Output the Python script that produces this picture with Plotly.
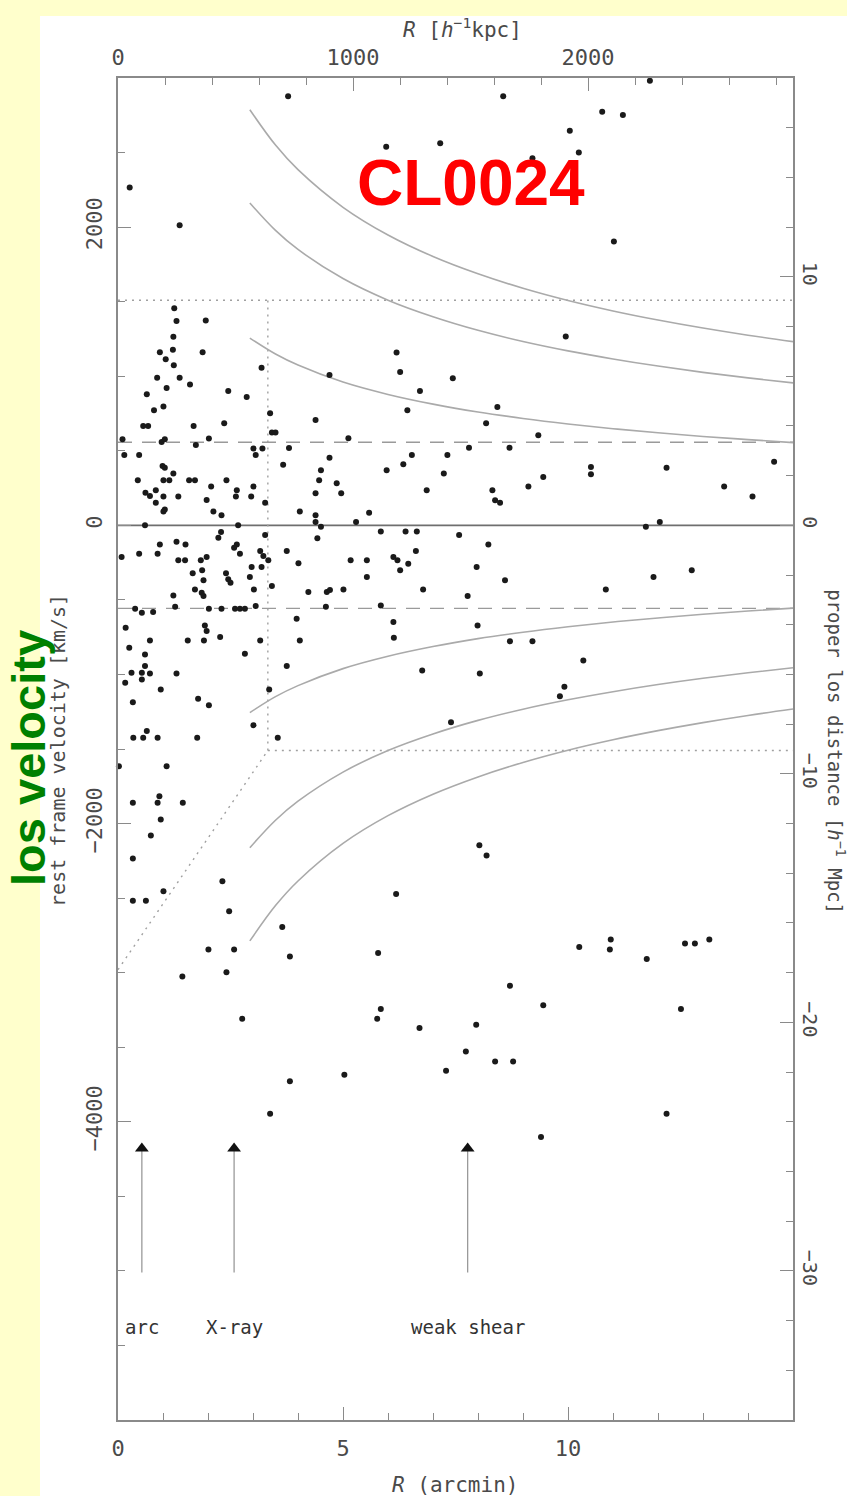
import plotly.graph_objects as go

# ---------------- data ----------------
# galaxies: projected radius R (arcmin) and rest frame velocity (km/s)
gal_R = [
    3.78, 8.56, 11.82, 10.76, 11.22, 10.04, 5.96, 7.16, 9.21, 10.24, 0.26, 1.37, 11.02,
    1.25, 1.30, 1.95, 1.23, 1.22, 0.93, 1.06, 1.24, 1.88, 3.19, 0.87, 1.37, 1.08, 1.60,
    0.64, 2.45, 2.86, 0.80, 1.01, 3.38, 0.56, 0.67, 1.68, 2.36, 3.42, 3.50, 0.10, 0.97,
    1.04, 2.02, 1.73, 3.01, 3.21, 3.06, 3.80, 0.14, 0.47, 3.67, 0.99, 1.04, 1.23, 0.44,
    1.01, 1.14, 1.58, 1.71, 2.41, 3.01, 2.07, 2.64, 0.61, 0.71, 0.84, 1.01, 1.34, 1.97,
    2.62, 2.96, 0.84, 3.27, 1.01, 1.04, 2.12, 2.30, 4.04, 0.60, 2.67,
    9.95, 6.19, 4.70, 6.27, 7.44, 6.71, 6.43, 8.43, 4.39, 8.18, 5.12, 9.34, 7.80, 8.70,
    4.70, 6.53, 7.32, 6.34, 5.97, 4.51, 4.47, 4.86, 4.39, 4.96, 7.24, 9.45, 10.51, 10.51,
    12.19, 14.58, 6.86, 8.32, 8.38, 8.49, 9.12, 13.47, 14.10, 5.58, 4.39, 4.39, 4.51,
    5.29, 11.73, 12.04,
    2.29, 2.23, 3.27, 0.93, 1.30, 1.50, 2.64, 2.58, 0.08, 0.47, 0.88, 2.71, 3.16, 3.23,
    3.34, 3.75, 1.34, 1.49, 1.84, 1.97, 4.01, 2.97, 3.19, 1.66, 1.87, 2.40, 2.45, 2.50,
    1.90, 2.93, 3.02, 3.42, 1.71, 1.86, 1.90, 4.23, 1.23, 1.27, 0.38, 0.53, 0.78, 2.02,
    2.30, 2.60, 2.71, 2.82, 3.06, 3.97, 0.17, 1.93, 1.97, 0.71, 1.55, 1.91, 2.27, 3.16,
    4.04, 0.25, 0.60, 2.82, 0.60, 0.53, 0.30, 0.71, 1.30, 3.75, 0.16, 0.53, 0.95, 3.36,
    0.33, 1.78, 2.02, 3.01, 0.64, 0.34, 0.56, 0.88, 1.76, 3.55, 0.02, 1.08,
    4.43, 5.84, 6.39, 6.64, 7.58, 8.23, 6.62, 5.17, 5.53, 6.12, 6.21, 6.45, 6.27, 7.97,
    5.53, 8.60, 11.90, 12.75, 10.84, 4.64, 4.71, 5.01, 6.78, 7.77, 4.62, 5.84, 6.12, 7.99,
    6.13, 8.71, 9.21, 10.34, 6.76, 8.04, 9.92, 9.82, 7.40,
    0.33, 0.92, 0.88, 1.44, 0.95, 0.73, 0.33, 2.32, 1.01, 0.33, 0.62, 2.47, 3.65, 2.01,
    2.58, 3.82, 5.78, 6.18, 8.03, 8.19, 2.41, 1.43,
    2.76, 5.84, 5.76, 6.70, 8.71, 9.45, 7.96, 7.73, 8.38, 8.78, 7.29, 5.03, 3.82, 3.38, 9.40,
    10.25, 10.95, 10.93, 11.75, 12.60, 12.82, 13.14, 12.51, 12.19,
]
gal_v = [
    2877, 2877, 2982, 2774, 2752, 2646, 2539, 2562, 2461, 2501, 2266, 2013, 1904,
    1456, 1371, 1374, 1264, 1177, 1161, 1114, 1074, 1161, 1056, 989, 989, 921, 944,
    879, 901, 861, 772, 797, 752, 666, 666, 666, 685, 622, 622, 577, 559,
    577, 582, 539, 515, 515, 472, 519, 472, 472, 407, 398, 387, 347, 302,
    302, 302, 302, 302, 302, 260, 260, 235, 219, 197, 235, 193, 193, 170,
    193, 193, 152, 152, 92, 107, 92, 67, 92, 0, 0,
    1266, 1159, 1009, 1029, 987, 901, 772, 794, 707, 685, 584, 604, 521, 521,
    454, 472, 472, 409, 369, 369, 302, 282, 215, 215, 347, 324, 391, 342,
    387, 427, 235, 235, 168, 152, 260, 260, 193, 85, 67, 22, -9,
    22, -9, 22,
    -45, -83, -65, -128, -110, -128, -128, -150, -213, -190, -190, -190, -172, -206,
    -235, -172, -235, -235, -235, -213, -255, -280, -280, -322, -302, -322, -362, -385,
    -369, -347, -430, -407, -430, -452, -474, -447, -470, -546, -559, -586, -582, -559,
    -559, -559, -559, -559, -541, -626, -687, -671, -709, -772, -772, -772, -749, -772,
    -772, -821, -866, -861, -944, -989, -989, -993, -993, -944, -1056, -1034, -1101, -1101,
    -1186, -1163, -1206, -1340, -1380, -1425, -1425, -1425, -1425, -1425, -1615, -1615,
    -87, -42, -42, -42, -65, -128, -172, -235, -235, -213, -235, -257, -302, -280,
    -347, -369, -347, -302, -430, -447, -434, -430, -430, -474, -546, -537, -649, -671,
    -754, -777, -777, -906, -973, -993, -1083, -1146, -1320,
    -1861, -1817, -1861, -1861, -1973, -2080, -2235, -2387, -2454, -2517, -2517, -2588, -2693, -2845,
    -2845, -2891, -2868, -2472, -2146, -2215, -2998, -3025,
    -3309, -3244, -3309, -3371, -3087, -3219, -3349, -3528, -3595, -3595, -3658, -3684, -3729, -3946, -4102,
    -2828, -2778, -2845, -2908, -2805, -2805, -2778, -3244, -3946,
]

# envelope curves (upper branch; the lower branch is its mirror image)
curve_R = [2.93, 3.5, 4, 5, 6, 7, 8, 9, 10, 11, 12, 13, 14, 15]
curve_inner = [1256, 1149, 1075, 961, 878, 813, 760, 717, 680, 648, 621, 596, 575, 555]
curve_mid = [2162, 1978, 1850, 1655, 1510, 1399, 1308, 1233, 1170, 1116, 1068, 1026, 989, 955]
curve_outer = [2787, 2550, 2385, 2133, 1947, 1803, 1687, 1590, 1508, 1438, 1377, 1323, 1275, 1232]

# reference lines
dash_v = 557             # dashed horizontal lines at +/- this velocity
box_R = 3.33             # dotted box edge (arcmin)
box_v = 1510             # dotted box half height (km/s)
diag_v0 = -2980          # dotted diagonal starts here at R = 0

# arrows and their labels
arrow_R = [0.53, 2.58, 7.77]
arrow_labels = ["arc", "X-ray", "weak shear"]
arrow_tip_v = -4180
arrow_base_v = -5010
label_v = -5376

# axis ticks
x_ticks = [0, 5, 10]
x2_ticks = [0, 1000, 2000]
y_ticks = [-4000, -2000, 0, 2000]
y2_ticks = [-30, -20, -10, 0, 10]

# ---------------- figure ----------------
GRAY = "#9a9a9a"
TXT = "#4a4a4a"
MONO = "DejaVu Sans Mono"

fig = go.Figure()

for s in (1, -1):
    fig.add_trace(go.Scatter(x=[0, 15], y=[s * dash_v, s * dash_v], mode="lines",
                             line=dict(color=GRAY, width=1.4, dash="14px,10px"),
                             hoverinfo="skip", showlegend=False))
fig.add_trace(go.Scatter(x=[0, 15], y=[0, 0], mode="lines",
                         line=dict(color="#6f6f6f", width=1.8), hoverinfo="skip", showlegend=False))
dot = dict(color="#a0a0a0", width=1.4, dash="2px,5px")
fig.add_trace(go.Scatter(x=[0, 15], y=[box_v, box_v], mode="lines", line=dot,
                         hoverinfo="skip", showlegend=False))
fig.add_trace(go.Scatter(x=[box_R, 15], y=[-box_v, -box_v], mode="lines", line=dot,
                         hoverinfo="skip", showlegend=False))
fig.add_trace(go.Scatter(x=[box_R, box_R], y=[-box_v, box_v], mode="lines", line=dot,
                         hoverinfo="skip", showlegend=False))
fig.add_trace(go.Scatter(x=[0, box_R], y=[diag_v0, -box_v], mode="lines", line=dot,
                         hoverinfo="skip", showlegend=False))

for c in (curve_inner, curve_mid, curve_outer):
    fig.add_trace(go.Scatter(x=curve_R, y=c, mode="lines",
                             line=dict(color="#aaaaaa", width=1.6, shape="spline"),
                             hoverinfo="skip", showlegend=False))
    fig.add_trace(go.Scatter(x=curve_R, y=[-v for v in c], mode="lines",
                             line=dict(color="#aaaaaa", width=1.6, shape="spline"),
                             hoverinfo="skip", showlegend=False))

for r in arrow_R:
    fig.add_trace(go.Scatter(x=[r, r], y=[arrow_base_v, arrow_tip_v], mode="lines",
                             line=dict(color=GRAY, width=1.3), hoverinfo="skip", showlegend=False))
fig.add_trace(go.Scatter(x=arrow_R, y=[arrow_tip_v] * len(arrow_R), mode="markers",
                         marker=dict(symbol="triangle-up", size=12, color="#111"),
                         hoverinfo="skip", showlegend=False, cliponaxis=False))

fig.add_trace(go.Scatter(x=gal_R, y=gal_v, mode="markers",
                         marker=dict(symbol="circle", size=6, color="#1a1a1a"),
                         showlegend=False, cliponaxis=False))

# invisible trace so the secondary axes are drawn
fig.add_trace(go.Scatter(x=[0], y=[0], xaxis="x2", yaxis="y2", mode="markers",
                         marker=dict(opacity=0), hoverinfo="skip", showlegend=False))

axis_common = dict(showgrid=False, zeroline=False, showline=True, linecolor="#8a8a8a", linewidth=1.5,
                   ticks="inside", ticklen=13, tickwidth=1.3, tickcolor="#8a8a8a", tickmode="array")
minor_common = dict(tickmode="linear", tick0=0, ticks="inside", ticklen=7,
                    tickcolor="#8a8a8a", tickwidth=1.2)

fig.update_layout(
    width=847, height=1496,
    margin=dict(l=118, r=54, t=78, b=76),
    paper_bgcolor="#FFFFCC", plot_bgcolor="white",
    xaxis=dict(range=[0, 15], tickvals=x_ticks, ticklabelstandoff=8,
               tickfont=dict(family=MONO, size=22, color=TXT),
               minor=dict(dtick=1, **minor_common), **axis_common),
    xaxis2=dict(range=[0, 2872], overlaying="x", side="top", anchor="y", tickvals=x2_ticks,
                tickfont=dict(family=MONO, size=22, color=TXT),
                ticklabelstandoff=2, minor=dict(dtick=200, **minor_common), **axis_common),
    yaxis=dict(range=[-6000, 3000], tickvals=y_ticks, tickangle=-90, ticklabelstandoff=5,
               tickfont=dict(family=MONO, size=22, color=TXT),
               minor=dict(dtick=500, **minor_common), **axis_common),
    yaxis2=dict(range=[-36, 18], overlaying="y", side="right", anchor="x", tickvals=y2_ticks,
                tickangle=90, ticklabelstandoff=0,
                tickfont=dict(family=MONO, size=20, color=TXT),
                minor=dict(dtick=2, **minor_common), **axis_common),
    shapes=[dict(type="rect", xref="paper", yref="paper", x0=-0.1156, x1=1.2, y0=-0.1, y1=1.0462,
                 fillcolor="white", line=dict(width=0), layer="below")],
)

ann = []
ann.append(dict(text="<i>R</i> [<i>h</i><sup>−1</sup>kpc]", xref="paper", yref="paper",
                x=0.511, y=1.0373, xanchor="center", yanchor="middle", showarrow=False,
                font=dict(family=MONO, size=21, color=TXT)))
ann.append(dict(text="<i>R</i> (arcmin)", xref="paper", yref="paper",
                x=0.499, y=-0.0484, xanchor="center", yanchor="middle", showarrow=False,
                font=dict(family=MONO, size=21, color=TXT)))
ann.append(dict(text="rest frame velocity [km/s]", xref="paper", yref="paper", textangle=-90,
                x=-0.0889, y=0.4993, xanchor="center", yanchor="middle", showarrow=False,
                font=dict(family=MONO, size=20, color=TXT)))
ann.append(dict(text="proper los distance [<i>h</i><sup>−1</sup> Mpc]", xref="paper", yref="paper",
                textangle=90, x=1.0645, y=0.498, xanchor="center", yanchor="middle", showarrow=False,
                font=dict(family=MONO, size=19, color=TXT)))
ann.append(dict(text="<b>los velocity</b>", xref="paper", yref="paper", textangle=-90,
                x=-0.1319, y=0.4933, xanchor="center", yanchor="middle", showarrow=False,
                font=dict(family="Liberation Sans", size=47, color="#008000")))
ann.append(dict(text="<b>CL0024</b>", xref="x", yref="y", x=7.84, y=2295,
                xanchor="center", yanchor="middle", showarrow=False,
                font=dict(family="Liberation Sans", size=64, color="#FF0000")))
for r, t in zip(arrow_R, arrow_labels):
    ann.append(dict(text=t, xref="x", yref="y", x=r, y=label_v, xanchor="center", yanchor="middle",
                    showarrow=False, font=dict(family=MONO, size=19, color="#333")))
fig.update_layout(annotations=ann)

fig.write_html("out.html", config={"displayModeBar": False},
               post_script="document.body.style.margin='0px';"
                           "document.body.style.background='#FFFFCC';")
